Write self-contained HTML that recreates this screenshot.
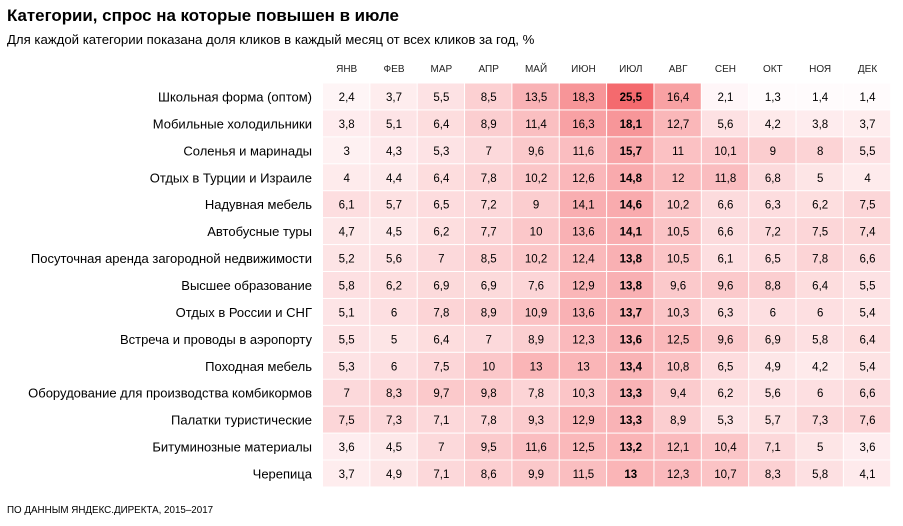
<!DOCTYPE html>
<html><head><meta charset="utf-8"><style>
body{margin:0;background:#fff;width:903px;height:526px;overflow:hidden;font-family:"Liberation Sans",sans-serif;color:#000}
#title{position:absolute;left:7px;top:6px;font-size:16.9px;font-weight:bold}
#sub{position:absolute;left:7px;top:32px;font-size:13.2px}
#foot{position:absolute;left:7px;top:505px;font-size:9.8px}
svg{position:absolute;left:0;top:0}
</style></head><body>
<div id="title">Категории, спрос на которые повышен в июле</div>
<div id="sub">Для каждой категории показана доля кликов в каждый месяц от всех кликов за год, %</div>
<div id="foot">ПО ДАННЫМ ЯНДЕКС.ДИРЕКТА, 2015–2017</div>
<svg id="chart" width="903" height="526"></svg>
<script>
const months=["ЯНВ","ФЕВ","МАР","АПР","МАЙ","ИЮН","ИЮЛ","АВГ","СЕН","ОКТ","НОЯ","ДЕК"];
const categories=["Школьная форма (оптом)","Мобильные холодильники","Соленья и маринады","Отдых в Турции и Израиле","Надувная мебель","Автобусные туры","Посуточная аренда загородной недвижимости","Высшее образование","Отдых в России и СНГ","Встреча и проводы в аэропорту","Походная мебель","Оборудование для производства комбикормов","Палатки туристические","Битуминозные материалы","Черепица"];
const values=[
[2.4,3.7,5.5,8.5,13.5,18.3,25.5,16.4,2.1,1.3,1.4,1.4],
[3.8,5.1,6.4,8.9,11.4,16.3,18.1,12.7,5.6,4.2,3.8,3.7],
[3,4.3,5.3,7,9.6,11.6,15.7,11,10.1,9,8,5.5],
[4,4.4,6.4,7.8,10.2,12.6,14.8,12,11.8,6.8,5,4],
[6.1,5.7,6.5,7.2,9,14.1,14.6,10.2,6.6,6.3,6.2,7.5],
[4.7,4.5,6.2,7.7,10,13.6,14.1,10.5,6.6,7.2,7.5,7.4],
[5.2,5.6,7,8.5,10.2,12.4,13.8,10.5,6.1,6.5,7.8,6.6],
[5.8,6.2,6.9,6.9,7.6,12.9,13.8,9.6,9.6,8.8,6.4,5.5],
[5.1,6,7.8,8.9,10.9,13.6,13.7,10.3,6.3,6,6,5.4],
[5.5,5,6.4,7,8.9,12.3,13.6,12.5,9.6,6.9,5.8,6.4],
[5.3,6,7.5,10,13,13,13.4,10.8,6.5,4.9,4.2,5.4],
[7,8.3,9.7,9.8,7.8,10.3,13.3,9.4,6.2,5.6,6,6.6],
[7.5,7.3,7.1,7.8,9.3,12.9,13.3,8.9,5.3,5.7,7.3,7.6],
[3.6,4.5,7,9.5,11.6,12.5,13.2,12.1,10.4,7.1,5,3.6],
[3.7,4.9,7.1,8.6,9.9,11.5,13,12.3,10.7,8.3,5.8,4.1]];
const svg=document.getElementById('chart');const NS='http://www.w3.org/2000/svg';
const x0=323,cw=47.35,y0=83.5,rh=26.93;
const xPos=i=>x0+i*cw, yPos=j=>y0+j*rh;
function color(v){const t=Math.max(0,Math.min(1,(v-1)/24.5));
const r=Math.round(255-t*11),g=Math.round(253-t*147),b=Math.round(254-t*144);return `rgb(${r},${g},${b})`;}
function fmt(v){return String(v).replace('.',',');}
months.forEach((m,i)=>{const t=document.createElementNS(NS,'text');


t.setAttribute('x',xPos(i)+cw/2);t.setAttribute('y',72);t.setAttribute('text-anchor','middle');
t.setAttribute('font-size','10');t.setAttribute('fill','#222');t.textContent=m;svg.appendChild(t);});
categories.forEach((c,j)=>{const t=document.createElementNS(NS,'text');


t.setAttribute('x',312);t.setAttribute('y',yPos(j)+rh/2+4.5);t.setAttribute('text-anchor','end');
t.setAttribute('font-size','13');t.textContent=c;svg.appendChild(t);
values[j].forEach((v,i)=>{const r=document.createElementNS(NS,'rect');


r.setAttribute('x',xPos(i));r.setAttribute('y',yPos(j));r.setAttribute('width',cw-1);r.setAttribute('height',rh-1);
r.setAttribute('fill',color(v));svg.appendChild(r);
const tt=document.createElementNS(NS,'text');


tt.setAttribute('x',xPos(i)+cw/2);tt.setAttribute('y',yPos(j)+rh/2+4);tt.setAttribute('text-anchor','middle');
tt.setAttribute('font-size','11.5');if(i===6)tt.setAttribute('font-weight','bold');
tt.textContent=fmt(v);svg.appendChild(tt);});});
</script>
</body></html>
